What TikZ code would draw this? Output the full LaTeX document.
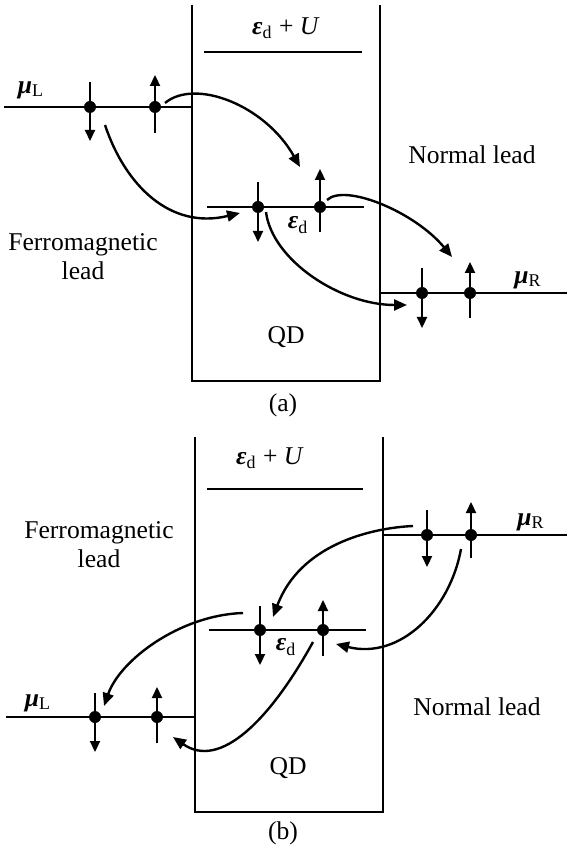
\documentclass[tikz,border=0pt]{standalone}
\usepackage{fontspec}
\setmainfont{Liberation Serif}
\usetikzlibrary{arrows.meta,calc}

\begin{document}
\begin{tikzpicture}[x=0.5pt, y=-0.5pt,
    enline/.style={line width=1.2pt},
    dot/.style={circle, fill=black, inner sep=0pt, minimum size=6pt},
    spin/.style={line width=1.1pt, -{Triangle[length=5.5pt,width=5pt]}},
    arr/.style={line width=1.2pt, -{Triangle[length=6.5pt,width=5.5pt]}},
    lbl/.style={font=\fontsize{12.8}{14.5}\selectfont, align=center, inner sep=0pt}
  ]
  \useasboundingbox (0,0) rectangle (567,854);

  % (a)
  \draw[enline] (192,5) -- (192,381) -- (380,381) -- (380,5);
  \draw[enline] (204,52) -- (362,52);
  \draw[enline] (4,107) -- (192,107);
  \draw[enline] (207,207) -- (364,207);
  \draw[enline] (380,293) -- (567,293);

  \node[dot] (aL1) at (90,107) {};
  \node[dot] (aL2) at (155,107) {};
  \node[dot] (aD1) at (258,207) {};
  \node[dot] (aD2) at (320,207) {};
  \node[dot] (aR1) at (422,293) {};
  \node[dot] (aR2) at (470,293) {};

  \draw[spin] ($(aL1)+(0,-25)$) -- ($(aL1)+(0,34)$);
  \draw[spin] ($(aL2)+(0,26)$) -- ($(aL2)+(0,-32)$);
  \draw[spin] ($(aD1)+(0,-25)$) -- ($(aD1)+(0,35)$);
  \draw[spin] ($(aD2)+(0,25)$) -- ($(aD2)+(0,-38)$);
  \draw[spin] ($(aR1)+(0,-25)$) -- ($(aR1)+(0,35)$);
  \draw[spin] ($(aR2)+(0,25)$) -- ($(aR2)+(0,-31)$);

  \node[lbl] (aU)   at (286,28)  {\textbf{\textit{ε}}\textsubscript{d} + \textit{U}};
  \node[lbl] (aMuL) at (31,90)   {\textbf{\textit{μ}}\textsubscript{L}};
  \node[lbl] (aMuR) at (528,280) {\textbf{\textit{μ}}\textsubscript{R}};
  \node[lbl] (aEd)  at (298,225) {\textbf{\textit{ε}}\textsubscript{d}};
  \node[lbl] (aNor) at (472,155) {Normal lead};
  \node[lbl] (aFer) at (83,257)  {Ferromagnetic\\lead};
  \node[lbl] (aQD)  at (286,337) {QD};
  \node[lbl] (aCap) at (283,405) {(a)};

  \coordinate (a1s) at (165,103);
  \coordinate (a1e) at (300,167);
  \coordinate (a2s) at (105,125);
  \coordinate (a2e) at (240,213);
  \coordinate (a3s) at (327,200);
  \coordinate (a3e) at (452,257);
  \coordinate (a4s) at (266,212);
  \coordinate (a4e) at (407,305);
  \draw[arr] (a1s) .. controls (195,78) and (265,105) .. (a1e);
  \draw[arr] (a2s) .. controls (125,185) and (170,230) .. (a2e);
  \draw[arr] (a3s) .. controls (345,183) and (415,212) .. (a3e);
  \draw[arr] (a4s) .. controls (272,260) and (340,305) .. (a4e);

  % (b)
  \draw[enline] (195,437) -- (195,812) -- (383,812) -- (383,437);
  \draw[enline] (207,489) -- (363,489);
  \draw[enline] (382,535) -- (567,535);
  \draw[enline] (209,630) -- (366,630);
  \draw[enline] (6,717) -- (195,717);

  \node[dot] (bR1) at (427,535) {};
  \node[dot] (bR2) at (471,535) {};
  \node[dot] (bD1) at (260,630) {};
  \node[dot] (bD2) at (323,630) {};
  \node[dot] (bL1) at (95,717) {};
  \node[dot] (bL2) at (157,717) {};

  \draw[spin] ($(bR1)+(0,-25)$) -- ($(bR1)+(0,32)$);
  \draw[spin] ($(bR2)+(0,23)$) -- ($(bR2)+(0,-33)$);
  \draw[spin] ($(bD1)+(0,-24)$) -- ($(bD1)+(0,35)$);
  \draw[spin] ($(bD2)+(0,26)$) -- ($(bD2)+(0,-30)$);
  \draw[spin] ($(bL1)+(0,-24)$) -- ($(bL1)+(0,35)$);
  \draw[spin] ($(bL2)+(0,26)$) -- ($(bL2)+(0,-30)$);

  \node[lbl] (bU)   at (270,458) {\textbf{\textit{ε}}\textsubscript{d} + \textit{U}};
  \node[lbl] (bMuR) at (531,522) {\textbf{\textit{μ}}\textsubscript{R}};
  \node[lbl] (bMuL) at (38,703)  {\textbf{\textit{μ}}\textsubscript{L}};
  \node[lbl] (bEd)  at (286,647) {\textbf{\textit{ε}}\textsubscript{d}};
  \node[lbl] (bFer) at (99,545)  {Ferromagnetic\\lead};
  \node[lbl] (bNor) at (477,707) {Normal lead};
  \node[lbl] (bQD)  at (288,768) {QD};
  \node[lbl] (bCap) at (283,833) {(b)};

  \coordinate (b1s) at (413,526);
  \coordinate (b1e) at (273,617);
  \coordinate (b2s) at (461,549);
  \coordinate (b2e) at (336,644);
  \coordinate (b3s) at (243,613);
  \coordinate (b3e) at (104,706);
  \coordinate (b4s) at (313,642);
  \coordinate (b4e) at (173,737);
  \draw[arr] (b1s) .. controls (370,528) and (300,545) .. (b1e);
  \draw[arr] (b2s) .. controls (450,610) and (400,660) .. (b2e);
  \draw[arr] (b3s) .. controls (180,615) and (120,660) .. (b3e);
  \draw[arr] (b4s) .. controls (270,720) and (220,770) .. (b4e);
\end{tikzpicture}
\end{document}
